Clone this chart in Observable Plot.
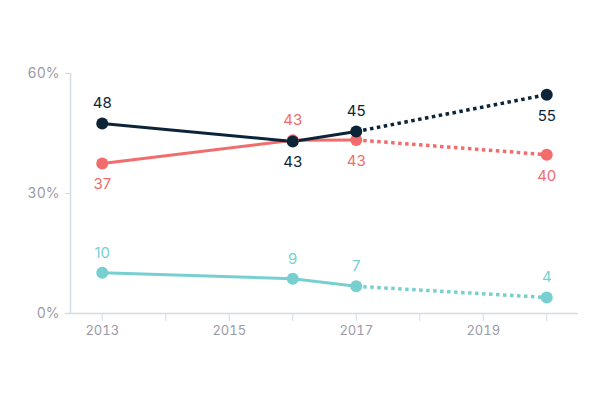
<!DOCTYPE html>
<html><head><meta charset="utf-8">
<script src="https://cdn.jsdelivr.net/npm/d3@7"></script>
<script src="https://cdn.jsdelivr.net/npm/@observablehq/plot@0.6"></script>
<style>body{margin:0;background:#fff;font-family:Inter,sans-serif}</style>
</head><body><div id="chart"></div>
<script>
const years = [2013, 2016, 2017, 2020];
const seriesNames = ["C", "B", "A"];
const valuesA = [47.5, 43, 45.5, 54.7];
const valuesB = [37.5, 43.3, 43.4, 39.7];
const valuesC = [10.2, 8.7, 6.8, 4];
const labelsA = ["48", "43", "45", "55"];
const labelsB = ["37", "43", "43", "40"];
const labelsC = ["10", "9", "7", "4"];
const labelPosA = ["above", "below", "above", "below"];
const labelPosB = ["below", "above", "below", "below"];
const labelPosC = ["above", "above", "above", "above"];
const colors = ["#77cfd0", "#f26c6c", "#0c2438"];
const yTicks = [0, 30, 60];
const xTicksMinor = [2013, 2014, 2015, 2016, 2017, 2018, 2019, 2020];
const xTicksLabeled = [2013, 2015, 2017, 2019];

const vals = [valuesC, valuesB, valuesA];
const labs = [labelsC, labelsB, labelsA];
const poss = [labelPosC, labelPosB, labelPosA];
const data = [];
seriesNames.forEach((s, i) => years.forEach((y, j) => data.push({
  series: s, year: y, value: vals[i][j], label: labs[i][j], pos: poss[i][j], color: colors[i]
})));
const solid = data.filter(d => d.year <= 2017);
const dotted = data.filter(d => d.year >= 2017);

const plot = Plot.plot({
  width: 600, height: 400,
  marginLeft: 70, marginRight: 22, marginTop: 73, marginBottom: 87,
  style: {fontFamily: "Inter, sans-serif", background: "#fff"},
  x: {domain: [2012.5, 2020.5]},
  y: {domain: [0, 60]},
  marks: [
    Plot.ruleX([2012.5], {y1: 0, y2: 60, stroke: "#d3dce5", strokeWidth: 1.5}),
    Plot.ruleY([0], {stroke: "#d3dce5", strokeWidth: 1.5, insetLeft: -5}),
    Plot.axisY({ticks: yTicks, tickFormat: d => d + "%", tickSize: 5, tickPadding: 6, stroke: "#d3dce5", fill: "#9a9aa7", fontSize: 14, label: null}),
    Plot.axisX({ticks: xTicksMinor, tickFormat: () => "", tickSize: 8, stroke: "#d3dce5", label: null}),
    Plot.axisX({ticks: xTicksLabeled, tickFormat: d => String(d), tickSize: 0, tickPadding: 12, fill: "#9a9aa7", fontSize: 13, label: null}),
    Plot.line(dotted, {x: "year", y: "value", z: "series", stroke: "color", strokeWidth: 3.5, strokeDasharray: "3.5,3.5", strokeLinecap: "butt"}),
    Plot.line(solid, {x: "year", y: "value", z: "series", stroke: "color", strokeWidth: 3}),
    Plot.dot(data, {x: "year", y: "value", fill: "color", r: 6}),
    Plot.text(data.filter(d => d.pos === "above"), {x: "year", y: "value", text: "label", fill: "color", dy: -20, fontSize: 15}),
    Plot.text(data.filter(d => d.pos === "below"), {x: "year", y: "value", text: "label", fill: "color", dy: 21, fontSize: 15})
  ]
});
document.getElementById("chart").appendChild(plot);
</script>
</body></html>
